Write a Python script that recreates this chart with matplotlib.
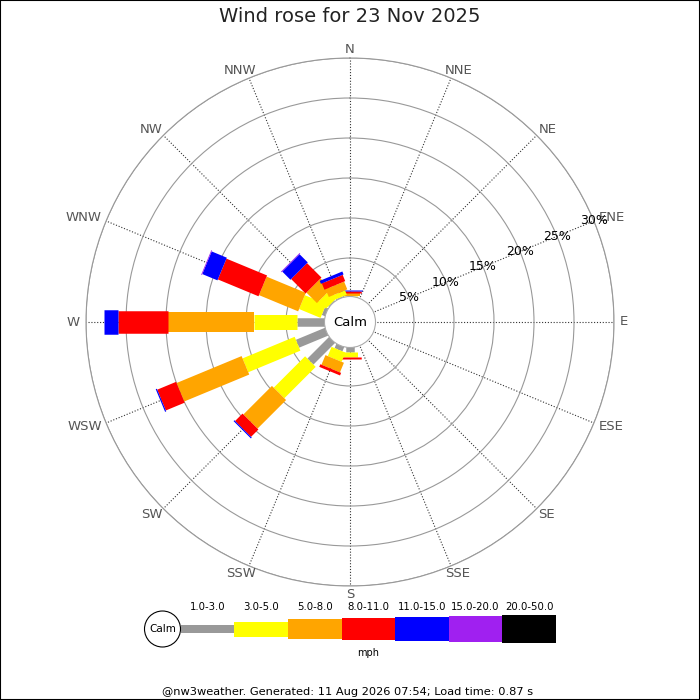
import numpy as np
import matplotlib
matplotlib.use("Agg")
import matplotlib.pyplot as plt
from matplotlib.patches import Circle, Rectangle
from matplotlib.transforms import ScaledTranslation

# ---------------- data ----------------
title = "Wind rose for 23 Nov 2025"
directions = ["N", "NNE", "NE", "ENE", "E", "ESE", "SE", "SSE",
              "S", "SSW", "SW", "WSW", "W", "WNW", "NW", "NNW"]
speed_bins = ["1.0-3.0", "3.0-5.0", "5.0-8.0", "8.0-11.0",
              "11.0-15.0", "15.0-20.0", "20.0-50.0"]
speed_unit = "mph"
# percent of time, per direction, for each speed bin
pct_1_3   = [0.10, 0, 0, 0, 0, 0, 0, 0, 0.70, 0.75, 4.00, 4.10, 3.60, 0.60, 0.30, 0.30]
pct_3_5   = [0.20, 0, 0, 0, 0, 0, 0, 0, 0.65, 1.25, 5.55, 7.05, 5.40, 2.90, 1.30, 0.60]
pct_5_8   = [0.30, 0, 0, 0, 0, 0, 0, 0, 0.07, 1.30, 5.05, 8.80, 10.75, 5.30, 1.85, 1.05]
pct_8_11  = [0.25, 0, 0, 0, 0, 0, 0, 0, 0.15, 0.35, 1.30, 2.55, 6.25, 5.50, 2.55, 0.85]
pct_11_15 = [0.17, 0, 0, 0, 0, 0, 0, 0, 0, 0, 0.15, 0.15, 1.75, 2.05, 1.45, 0.40]
pct_15_20 = [0, 0, 0, 0, 0, 0, 0, 0, 0, 0, 0, 0, 0, 0.10, 0.10, 0]
pct_20_50 = [0, 0, 0, 0, 0, 0, 0, 0, 0, 0, 0, 0, 0, 0, 0, 0]
ring_values = [5, 10, 15, 20, 25, 30]
footer = "@nw3weather. Generated: 11 Aug 2026 07:54; Load time: 0.87 s"

# ---------------- styles ----------------
bin_colors = ["#999999", "#ffff00", "#ffa500", "#ff0000", "#0000ff", "#a020f0", "#000000"]
bin_px = [8.5, 15, 20, 22.5, 24.5, 26.5, 28]          # bar thickness in pixels
series = [pct_1_3, pct_3_5, pct_5_8, pct_8_11, pct_11_15, pct_15_20, pct_20_50]

W = H = 700
DPI = 100
fig = plt.figure(figsize=(7, 7), dpi=DPI)
fig.patch.set_facecolor("white")

cx, cy = 350, 322          # centre of rose (pixels from top-left)
R_out = 264                # radius of outer ring (px)
R_in = 24                  # radius of 0 %
ax = fig.add_axes([(cx - R_out) / W, (H - cy - R_out) / H, 2 * R_out / W, 2 * R_out / H],
                  projection="polar")
ax.set_theta_zero_location("N")
ax.set_theta_direction(-1)

thetas = np.deg2rad(np.arange(len(directions)) * 360.0 / len(directions))

for d, th in enumerate(thetas):
    base = 0.0
    for b, s in enumerate(series):
        v = s[d]
        if v > 0:
            ax.plot([th, th], [base, base + v], color=bin_colors[b],
                    lw=bin_px[b] * 0.72, solid_capstyle="butt", zorder=3)
        base += v

rmax = ring_values[-1]
px_per_unit = (R_out - R_in) / rmax
ax.set_ylim(0, rmax)
ax.set_rorigin(-R_in / px_per_unit)

ax.set_xticks(thetas)
ax.set_xticklabels([])
ax.set_yticks(ring_values)
ax.set_yticklabels([])
ax.tick_params(axis="both", length=0)
ax.xaxis.grid(True, color="#333333", linestyle=(0, (1, 1.6)), linewidth=0.8)
ax.yaxis.grid(True, color="#999999", linestyle="-", linewidth=0.8)
ax.spines["polar"].set_color("#999999")
ax.spines["polar"].set_linewidth(0.8)
ax.spines["inner"].set_visible(False)
ax.set_facecolor("white")

# direction labels: anchored just outside the ring, pushed outward by half their size
renderer = fig.canvas.get_renderer()
r_lab = rmax + 6 / px_per_unit
label_h = 5.0
for name, th in zip(directions, thetas):
    t = ax.text(th, r_lab, name, ha="center", va="center", color="#555555",
                fontsize=9.5, clip_on=False)
    w = t.get_window_extent(renderer).width
    dx = np.sin(th) * w / 2 / DPI
    dy = np.cos(th) * label_h / 2 / DPI
    t.set_transform(ax.transData + ScaledTranslation(dx, dy, fig.dpi_scale_trans))

lab_theta = np.deg2rad(67.5)
for v in ring_values:
    ax.text(lab_theta, v, f"{v}%", ha="center", va="center", color="black",
            fontsize=9, zorder=4, clip_on=False)

# calm circle
fig.add_artist(Circle((cx / W, 1 - cy / H), 25.5 / W, transform=fig.transFigure,
                      facecolor="white", edgecolor="#aaaaaa", lw=0.8, zorder=5))
fig.text(cx / W, 1 - cy / H, "Calm", ha="center", va="center", fontsize=9.5, zorder=6)

# title
fig.text(0.5, 1 - 17 / H, title, ha="center", va="center", fontsize=14, color="#222222")

# ---------------- legend ----------------
lx0, lx1 = 180.7, 556.0
ly = 629
lax = fig.add_axes([lx0 / W, (H - ly - 30) / H, (lx1 - lx0) / W, 60 / H])
lax.set_xlim(0, len(speed_bins))
lax.set_ylim(-30, 30)
lax.axis("off")
for i, (lab, col, h) in enumerate(zip(speed_bins, bin_colors, bin_px)):
    lax.bar(i, h, width=1, bottom=-h / 2, align="edge", color=col, linewidth=0)
    lax.text(i + 0.5, 22.5, lab, ha="center", va="center", fontsize=7.3)
lax.text(len(speed_bins) / 2, -24, speed_unit, ha="center", va="center", fontsize=7)

fig.add_artist(Circle((162.5 / W, 1 - ly / H), 18 / W, transform=fig.transFigure,
                      facecolor="white", edgecolor="black", lw=0.8, zorder=5))
fig.text(162.5 / W, 1 - ly / H, "Calm", ha="center", va="center", fontsize=7.5, zorder=6)

fig.text(348 / W, 8 / H, footer, ha="center", va="center", fontsize=8.2)

fig.add_artist(Rectangle((0, 0), 1, 1, transform=fig.transFigure, fill=False,
                         edgecolor="black", lw=1.5))

fig.savefig("out.png", dpi=DPI)
